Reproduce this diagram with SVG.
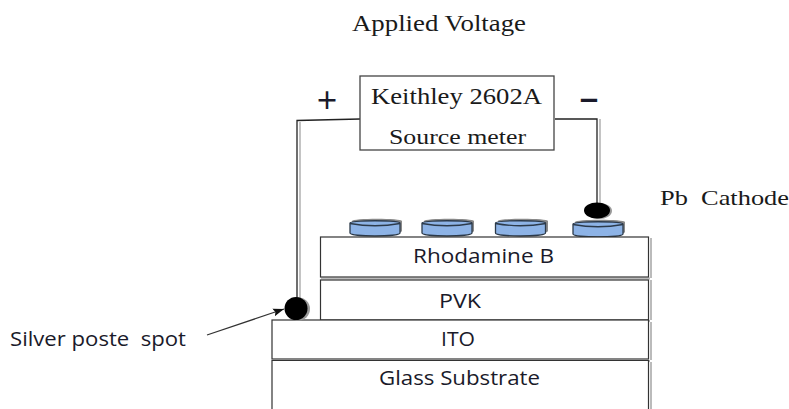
<svg xmlns="http://www.w3.org/2000/svg" width="789" height="409" viewBox="0 0 789 409">
<defs>
<marker id="arr" markerUnits="userSpaceOnUse" markerWidth="13" markerHeight="10" refX="11" refY="5" orient="auto"><path d="M0 1L11 5L0 9L2 5Z" fill="#111"/></marker>
<path id="disc-shape" d="M0 4C0 1 50 1 50 4V14C50 18 0 18 0 14Z"/>
</defs>
<style>
.serif{font-family:"Liberation Serif","Times New Roman",serif;fill:#1a1a1a}
.sans{font-family:"Open Sans","DejaVu Sans",sans-serif;fill:#1a1a2a}
.layer{fill:#fff;stroke:#333;stroke-width:1.200}
.shadow{fill:none;stroke:#bbb;stroke-width:2}
.disc{fill:#8db3e6;stroke:#2c3a4a;stroke-width:1.300}
.cap{fill:none;stroke:#2c3a4a;stroke-width:1.300}
.dshadow{fill:#8a8a8a}
.wire{fill:none;stroke:#222;stroke-width:1.300}
.wireshadow{fill:none;stroke:#c4c4c4;stroke-width:2}
</style>
<rect width="789" height="409" fill="#fff"/>
<g id="connectors">
<path class="wireshadow" d="M300 122V300"/>
<path class="wireshadow" d="M600 119V205"/>
<path class="wire" d="M360 119L297 120.500V300"/>
<path class="wire" d="M555 119H597V205"/>
<path d="M207 335L284 309" fill="none" stroke="#333" stroke-width="1.300" marker-end="url(#arr)"/>
</g>
<g id="title"><text class="serif" x="352" y="31" font-size="23" textLength="174" lengthAdjust="spacingAndGlyphs">Applied Voltage</text></g>
<g id="source-meter">
<rect x="360" y="76" width="194" height="74" fill="#fff" stroke="#444" stroke-width="1.300"/>
<text class="serif" x="371" y="104" font-size="24" textLength="171" lengthAdjust="spacingAndGlyphs">Keithley 2602A</text>
<text class="serif" x="389" y="144" font-size="22" textLength="137" lengthAdjust="spacingAndGlyphs">Source meter</text>
</g>
<g id="plus"><text class="sans" x="327" y="113" font-size="36" text-anchor="middle">+</text></g>
<g id="minus"><text class="sans" x="589" y="108" font-size="27" font-weight="700" text-anchor="middle" textLength="20" lengthAdjust="spacingAndGlyphs">-</text></g>
<g id="pb-label"><text class="serif" x="660" y="205" font-size="22" textLength="129" lengthAdjust="spacingAndGlyphs" xml:space="preserve">Pb  Cathode</text></g>
<g id="discs">
<g id="disc-1"><use href="#disc-shape" class="dshadow" x="352" y="217"/><use href="#disc-shape" class="disc" x="350" y="219"/><path class="cap" d="M350 223.500Q375 228 400 223.500"/></g>
<g id="disc-2"><use href="#disc-shape" class="dshadow" x="424" y="217"/><use href="#disc-shape" class="disc" x="422" y="219"/><path class="cap" d="M422 223.500Q447 228 472 223.500"/></g>
<g id="disc-3"><use href="#disc-shape" class="dshadow" x="498" y="217"/><use href="#disc-shape" class="disc" x="495.500" y="219"/><path class="cap" d="M495.500 223.500Q520 228 546 223.500"/></g>
<g id="disc-4"><use href="#disc-shape" class="dshadow" x="575" y="218"/><use href="#disc-shape" class="disc" x="573" y="220"/><path class="cap" d="M573 224.500Q598 229 623 224.500"/></g>
</g>
<g id="cathode-spot"><ellipse cx="599" cy="211" rx="13" ry="8" fill="#999"/><ellipse cx="597" cy="210.500" rx="13" ry="8" fill="#000"/></g>
<g id="rhodamine">
<path class="shadow" d="M651 238V278M321 278.500H650"/>
<rect class="layer" x="320.500" y="237" width="328" height="40"/>
<text class="sans" x="413" y="263" font-size="20.500" textLength="141" lengthAdjust="spacingAndGlyphs">Rhodamine B</text>
</g>
<g id="pvk">
<path class="shadow" d="M651 280V320M321 321H650"/>
<rect class="layer" x="320.500" y="280" width="328" height="40"/>
<text class="sans" x="439" y="308" font-size="20.500" textLength="42" lengthAdjust="spacingAndGlyphs">PVK</text>
</g>
<g id="ito">
<path class="shadow" d="M651 322V360M273 361H650"/>
<rect class="layer" x="272" y="320" width="376.500" height="39"/>
<text class="sans" x="441" y="346" font-size="20" textLength="34" lengthAdjust="spacingAndGlyphs">ITO</text>
</g>
<g id="glass">
<path class="shadow" d="M651 362V409"/>
<path class="layer" d="M272 409V360.500H648.500V409"/>
<text class="sans" x="379" y="385" font-size="20" textLength="161" lengthAdjust="spacingAndGlyphs">Glass Substrate</text>
</g>
<g id="silver-spot"><circle cx="298.500" cy="309" r="11.500" fill="#999"/><circle cx="296" cy="308.500" r="11.500" fill="#000"/></g>
<g id="silver-label"><text class="sans" x="10" y="346" font-size="20" textLength="176" lengthAdjust="spacingAndGlyphs" xml:space="preserve">Silver poste  spot</text></g>
</svg>
